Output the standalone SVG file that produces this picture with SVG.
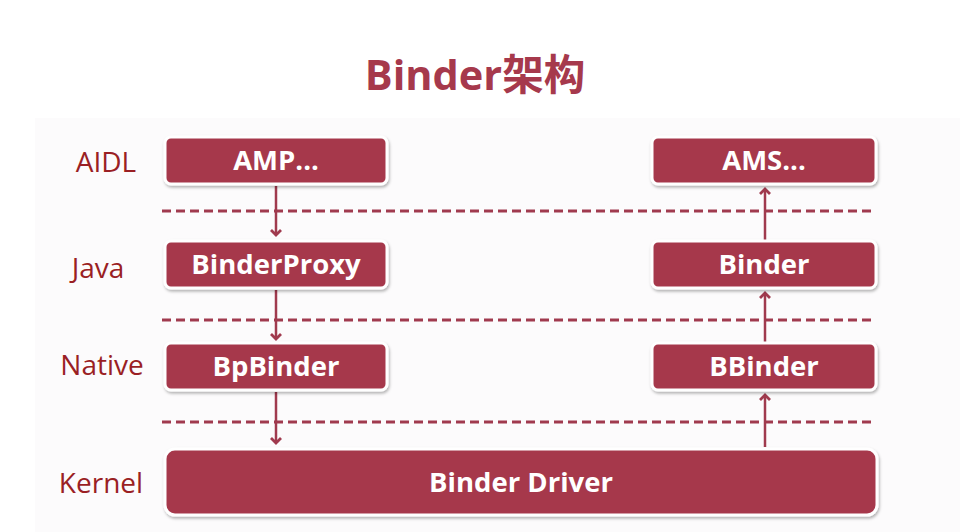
<svg xmlns="http://www.w3.org/2000/svg" width="960" height="532" viewBox="0 0 960 532">
<defs>
<filter id="sh" x="-10%" y="-20%" width="120%" height="150%">
<feDropShadow dx="1" dy="2" stdDeviation="1.5" flood-color="#000" flood-opacity="0.3"/>
</filter>
<marker id="ah" markerWidth="12" markerHeight="12" refX="6" refY="6" orient="auto" markerUnits="userSpaceOnUse">
<path d="M1,1 L6,6 L1,11" fill="none" stroke="#a03a4e" stroke-width="2.8"/>
</marker>
<style>
.box{fill:#a6394c;stroke:#fff;stroke-width:3;filter:url(#sh)}
.bt{font-family:"Open Sans","Liberation Sans",sans-serif;font-weight:bold;font-size:27.5px;fill:#fff;text-anchor:middle}
.lab{font-family:"Open Sans","Liberation Sans",sans-serif;font-size:28px;fill:#9a1f24;text-anchor:middle}
.dash{stroke:#a03a4e;stroke-width:3;stroke-dasharray:9,5;fill:none}
.arr{stroke:#a03a4e;stroke-width:2.5;fill:none;marker-end:url(#ah)}
</style>
</defs>
<rect width="960" height="532" fill="#ffffff"/>
<rect x="35" y="118" width="925" height="414" fill="#fcfbfc"/>
<text x="475" y="90" font-family="'Open Sans','Noto Sans CJK SC',sans-serif" font-weight="bold" font-size="41.5" fill="#a6394c" text-anchor="middle">Binder架构</text>
<g id="labels">
<text class="lab" x="106" y="172">AIDL</text>
<text class="lab" x="98" y="278">Java</text>
<text class="lab" x="102" y="375">Native</text>
<text class="lab" x="101" y="493">Kernel</text>
</g>
<g id="connectors">
<line class="dash" x1="162" y1="211" x2="876" y2="211"/>
<line class="dash" x1="162" y1="320" x2="876" y2="320"/>
<line class="dash" x1="162" y1="422" x2="876" y2="422"/>
<line class="arr" x1="276" y1="186" x2="276" y2="235"/>
<line class="arr" x1="276" y1="290" x2="276" y2="339"/>
<line class="arr" x1="276" y1="392" x2="276" y2="443"/>
<line class="arr" x1="765" y1="240" x2="765" y2="189"/>
<line class="arr" x1="765" y1="342" x2="765" y2="293"/>
<line class="arr" x1="765" y1="447" x2="765" y2="395"/>
</g>
<g id="amp"><rect class="box" x="165" y="137" width="222" height="47" rx="6"/><text class="bt" x="276" y="170">AMP...</text></g>
<g id="ams"><rect class="box" x="652" y="137" width="224" height="47" rx="6"/><text class="bt" x="764" y="170">AMS...</text></g>
<g id="binderproxy"><rect class="box" x="165" y="241" width="222" height="47" rx="6"/><text class="bt" x="276" y="274">BinderProxy</text></g>
<g id="binder"><rect class="box" x="652" y="241" width="224" height="47" rx="6"/><text class="bt" x="764" y="274">Binder</text></g>
<g id="bpbinder"><rect class="box" x="165" y="343" width="222" height="47" rx="6"/><text class="bt" x="276" y="376">BpBinder</text></g>
<g id="bbinder"><rect class="box" x="652" y="343" width="224" height="47" rx="6"/><text class="bt" x="764" y="376">BBinder</text></g>
<g id="driver"><rect class="box" x="165" y="449" width="712" height="66" rx="10"/><text class="bt" x="521" y="492">Binder Driver</text></g>
</svg>
